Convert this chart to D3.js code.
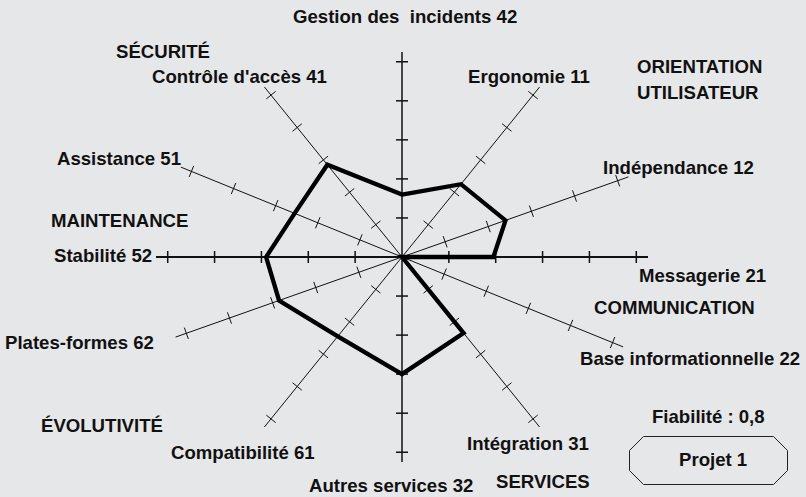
<!DOCTYPE html>
<html>
<head>
<meta charset="utf-8">
<script src="https://cdn.jsdelivr.net/npm/d3@7"></script>
<style>
  html, body { margin: 0; padding: 0; background: #e6e7e9; }
  svg { display: block; }
  text { font-family: "Liberation Sans", Arial, Helvetica, sans-serif; font-weight: bold; font-size: 18.6px; fill: #111; }
</style>
</head>
<body>
<svg></svg>
<script>
// criteres, dans l'ordre horaire depuis le haut
var criteria = ['Gestion des  incidents 42', 'Ergonomie 11', 'Indépendance 12', 'Messagerie 21',
  'Base informationnelle 22', 'Intégration 31', 'Autres services 32', 'Compatibilité 61',
  'Plates-formes 62', 'Stabilité 52', 'Assistance 51', "Contrôle d'accès 41"];
var scores = [1.6, 2.25, 2.4, 1.95, 0, 2.35, 3.0, 2.45, 2.85, 2.9, 2.55, 2.85];
var groups = ['SÉCURITÉ', 'ORIENTATION', 'UTILISATEUR', 'MAINTENANCE', 'COMMUNICATION', 'ÉVOLUTIVITÉ', 'SERVICES'];
var tickValues = [1, 2, 3, 4, 5];
var reliability = 'Fiabilité : 0,8';
var project = 'Projet 1';

var WIDTH = 806;
var HEIGHT = 497;
var CX = 402, CY = 257;
var RX = 246, RY = 205;   // axes drawn on an ellipse
var MAX = 5.25;

// angle of each axis (deg, counter-clockwise from east) -- layout only
var axisAngle = [90, 56, 23, 0, -26, -56, -90, -124, -157, 180, 154, 124];
// label anchors (left x, baseline)
var labelPos = [[293, 23], [468, 83], [603, 174], [639, 282], [580, 365], [467, 450],
  [309, 492], [171, 459], [5, 349], [54, 262], [57, 165], [152, 83]];
var groupPos = [[116, 58], [637, 73], [637, 99], [51, 227], [594, 314], [41, 432], [496, 488]];

var svg = d3.select('svg')
  .attr('width', WIDTH)
  .attr('height', HEIGHT);

var xScale = d3.scaleLinear().domain([-MAX, MAX]).range([CX - RX, CX + RX]);
var yScale = d3.scaleLinear().domain([-MAX, MAX]).range([CY + RY, CY - RY]);

var rad = function(i){ return axisAngle[i] * Math.PI / 180; };
var px = function(i, v){ return xScale(v * Math.cos(rad(i))); };
var py = function(i, v){ return yScale(v * Math.sin(rad(i))); };

// axes
var axisG = svg.append('g').attr('id', 'axes');
criteria.forEach(function(c, i){
  var main = (axisAngle[i] % 90 === 0);
  axisG.append('line')
    .attr('x1', CX).attr('y1', CY)
    .attr('x2', px(i, MAX)).attr('y2', py(i, MAX))
    .attr('stroke', '#111')
    .attr('stroke-width', axisAngle[i] === 0 || axisAngle[i] === 180 ? 2 : (main ? 1.5 : 1));

  // ticks perpendicular to the axis
  var dx = px(i, MAX) - CX, dy = py(i, MAX) - CY;
  var len = Math.sqrt(dx * dx + dy * dy);
  var nx = -dy / len * 6, ny = dx / len * 6;
  axisG.selectAll('line.t' + i)
    .data(tickValues)
    .enter()
    .append('line')
    .attr('class', 't' + i)
    .attr('x1', function(d){ return px(i, d) - nx; })
    .attr('y1', function(d){ return py(i, d) - ny; })
    .attr('x2', function(d){ return px(i, d) + nx; })
    .attr('y2', function(d){ return py(i, d) + ny; })
    .attr('stroke', '#111')
    .attr('stroke-width', main ? 1.5 : 1);
});

// score polygon
var line = d3.line()
  .x(function(d, i){ return px(i, d); })
  .y(function(d, i){ return py(i, d); })
  .curve(d3.curveLinearClosed);

svg.append('path')
  .datum(scores)
  .attr('d', line)
  .attr('fill', 'none')
  .attr('stroke', '#000')
  .attr('stroke-width', 4.3)
  .attr('stroke-linejoin', 'miter');

// labels
svg.append('g').selectAll('text')
  .data(criteria)
  .enter()
  .append('text')
  .attr('xml:space', 'preserve')
  .style('white-space', 'pre')
  .attr('x', function(d, i){ return labelPos[i][0]; })
  .attr('y', function(d, i){ return labelPos[i][1]; })
  .text(function(d){ return d; });

svg.append('g').selectAll('text')
  .data(groups)
  .enter()
  .append('text')
  .attr('x', function(d, i){ return groupPos[i][0]; })
  .attr('y', function(d, i){ return groupPos[i][1]; })
  .text(function(d){ return d; });

// legend box
svg.append('text').attr('x', 652).attr('y', 423).text(reliability);
var bx = 629.5, by = 436.5, bw = 158, bh = 48, ch = 14;
svg.append('path')
  .attr('d', 'M' + (bx + ch) + ',' + by + 'H' + (bx + bw - ch) + 'L' + (bx + bw) + ',' + (by + ch) +
    'V' + (by + bh - ch) + 'L' + (bx + bw - ch) + ',' + (by + bh) + 'H' + (bx + ch) +
    'L' + bx + ',' + (by + bh - ch) + 'V' + (by + ch) + 'Z')
  .attr('fill', 'none')
  .attr('stroke', '#222')
  .attr('stroke-width', 1);
svg.append('text').attr('x', 679).attr('y', 466).text(project);
</script>
</body>
</html>
